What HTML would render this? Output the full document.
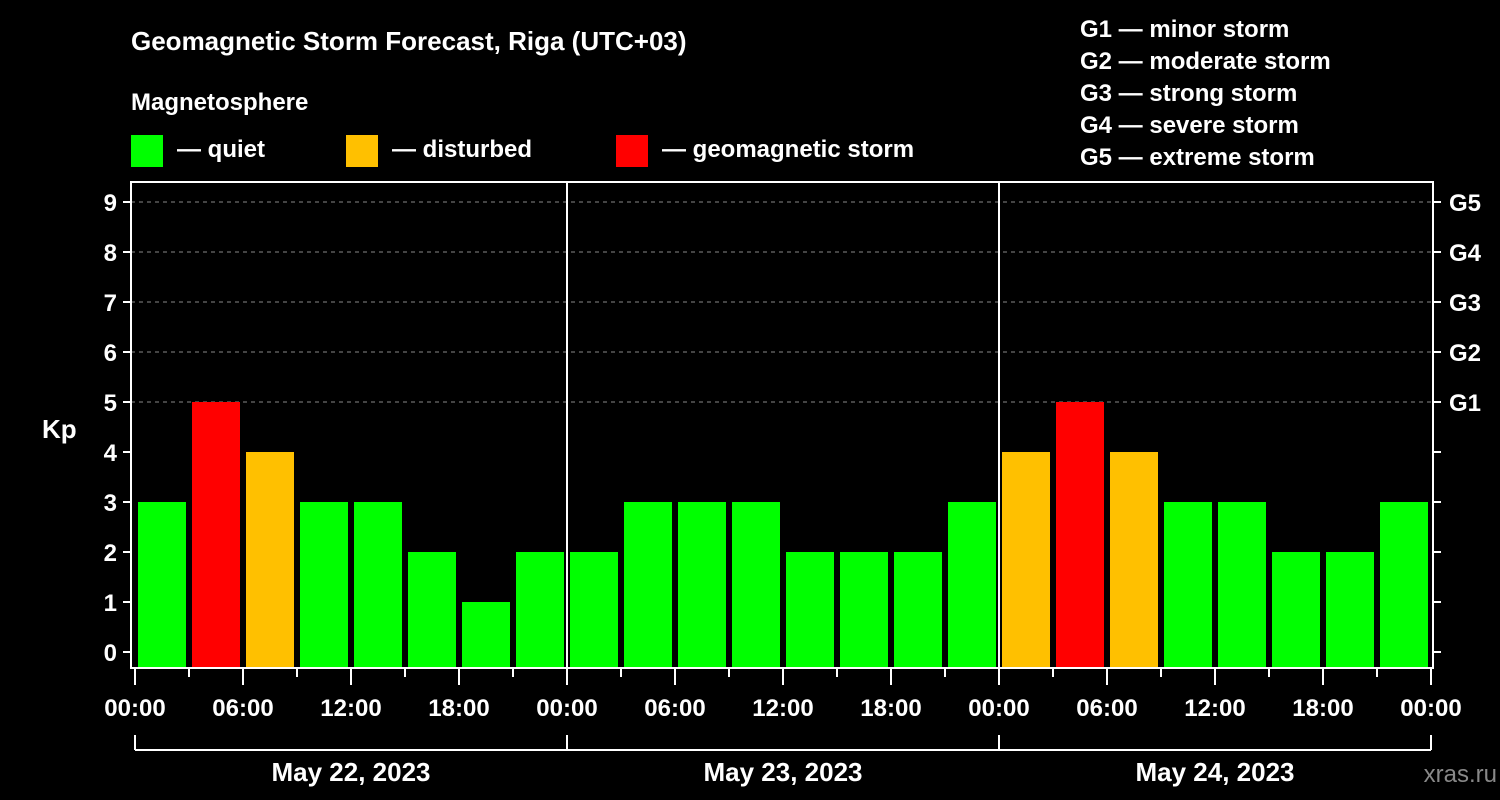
<!DOCTYPE html>
<html><head><meta charset="utf-8"><style>
html,body{margin:0;padding:0;background:#000;}
svg{display:block;font-family:"Liberation Sans",Arial,sans-serif;font-weight:bold;}
</style></head><body>
<svg id="chart" width="1500" height="800" viewBox="0 0 1500 800">
<rect width="1500" height="800" fill="#000"/>
<text x="131" y="50" fill="#fff" font-size="26">Geomagnetic Storm Forecast, Riga (UTC+03)</text>
<text x="131" y="110" fill="#fff" font-size="24">Magnetosphere</text>
<g><rect x="131" y="135" width="32" height="32" fill="#00ff00"/><text x="177" y="157" fill="#fff" font-size="24">— quiet</text></g>
<g><rect x="346" y="135" width="32" height="32" fill="#ffc000"/><text x="392" y="157" fill="#fff" font-size="24">— disturbed</text></g>
<g><rect x="616" y="135" width="32" height="32" fill="#ff0000"/><text x="662" y="157" fill="#fff" font-size="24">— geomagnetic storm</text></g>
<g fill="#fff" font-size="24">
<text x="1080" y="37">G1 — minor storm</text>
<text x="1080" y="69">G2 — moderate storm</text>
<text x="1080" y="101">G3 — strong storm</text>
<text x="1080" y="133">G4 — severe storm</text>
<text x="1080" y="165">G5 — extreme storm</text>
</g>
<text x="42" y="438" fill="#fff" font-size="26">Kp</text>
<text x="1497" y="782" fill="#888" font-size="24" font-weight="normal" text-anchor="end">xras.ru</text>
<g id="plot"></g>
</svg>
<script>
const days = ["May 22, 2023","May 23, 2023","May 24, 2023"];
const kpValues = [3,5,4,3,3,2,1,2, 2,3,3,3,2,2,2,3, 4,5,4,3,3,2,2,3];
const yTicks = [0,1,2,3,4,5,6,7,8,9];
const gLabels = ["G1","G2","G3","G4","G5"];
const hourLabels = ["00:00","06:00","12:00","18:00"];

const NS="http://www.w3.org/2000/svg";
const g=document.getElementById('plot');
const L=131,R=1433,T=182,B=668;
const x0=135, dayW=432;
const xs=h=>x0+h*dayW/24;
const ys=v=>652-50*v;
function mk(t,a,p){const e=document.createElementNS(NS,t);for(const k in a)e.setAttribute(k,a[k]);(p||g).appendChild(e);return e;}
function col(v){return v>=5?"#ff0000":v>=4?"#ffc000":"#00ff00";}
// grid
for(let v=5;v<=9;v++){
 const l=mk('line',{x1:L,x2:R,y1:ys(v),y2:ys(v),stroke:'#888','stroke-dasharray':'4,4','stroke-width':1});
 
 
}
// bars
kpValues.forEach((v,i)=>{
 const h=i*3;
 const r=mk('rect',{x:xs(h)+3,y:ys(v),width:dayW/8-6,height:B-ys(v),fill:col(v)});
 
 
});
// day separators
for(let d=1;d<days.length;d++){
 const l=mk('line',{x1:xs(24*d),x2:xs(24*d),y1:T,y2:B,stroke:'#fff','stroke-width':2});
 
 
}
// frame
const f=mk('rect',{x:L,y:T,width:R-L,height:B-T,fill:'none',stroke:'#fff','stroke-width':2});


// y ticks
yTicks.forEach(v=>{
 mk('line',{x1:L-8,x2:L,y1:ys(v),y2:ys(v),stroke:'#fff','stroke-width':2});
 mk('line',{x1:R,x2:R+8,y1:ys(v),y2:ys(v),stroke:'#fff','stroke-width':2});
 const t=mk('text',{x:L-14,y:ys(v)+9,fill:'#fff','font-size':24,'text-anchor':'end'});
 t.textContent=v;
 
 
});
gLabels.forEach((s,i)=>{
 const t=mk('text',{x:R+16,y:ys(5+i)+9,fill:'#fff','font-size':24});
 t.textContent=s;
 
 
});
// x ticks
for(let h=0;h<=24*days.length;h+=3){
 const major=h%6===0;
 mk('line',{x1:xs(h),x2:xs(h),y1:B,y2:B+(major?17:9),stroke:'#fff','stroke-width':2});
 if(major&&(h%24===0||h%6===0)){
  const t=mk('text',{x:xs(h),y:716,fill:'#fff','font-size':24,'text-anchor':'middle'});
  t.textContent=hourLabels[(h%24)/6];
  
  
 }
}
// day brackets
mk('line',{x1:xs(0),x2:xs(24*days.length),y1:750,y2:750,stroke:'#fff','stroke-width':2});
days.forEach((d,i)=>{
 mk('line',{x1:xs(24*i),x2:xs(24*i),y1:735,y2:750,stroke:'#fff','stroke-width':2});
 const t=mk('text',{x:xs(24*i+12),y:781,fill:'#fff','font-size':26,'text-anchor':'middle'});
 t.textContent=d;
 
 
});
mk('line',{x1:xs(24*days.length),x2:xs(24*days.length),y1:735,y2:750,stroke:'#fff','stroke-width':2});
</script>
</body></html>
